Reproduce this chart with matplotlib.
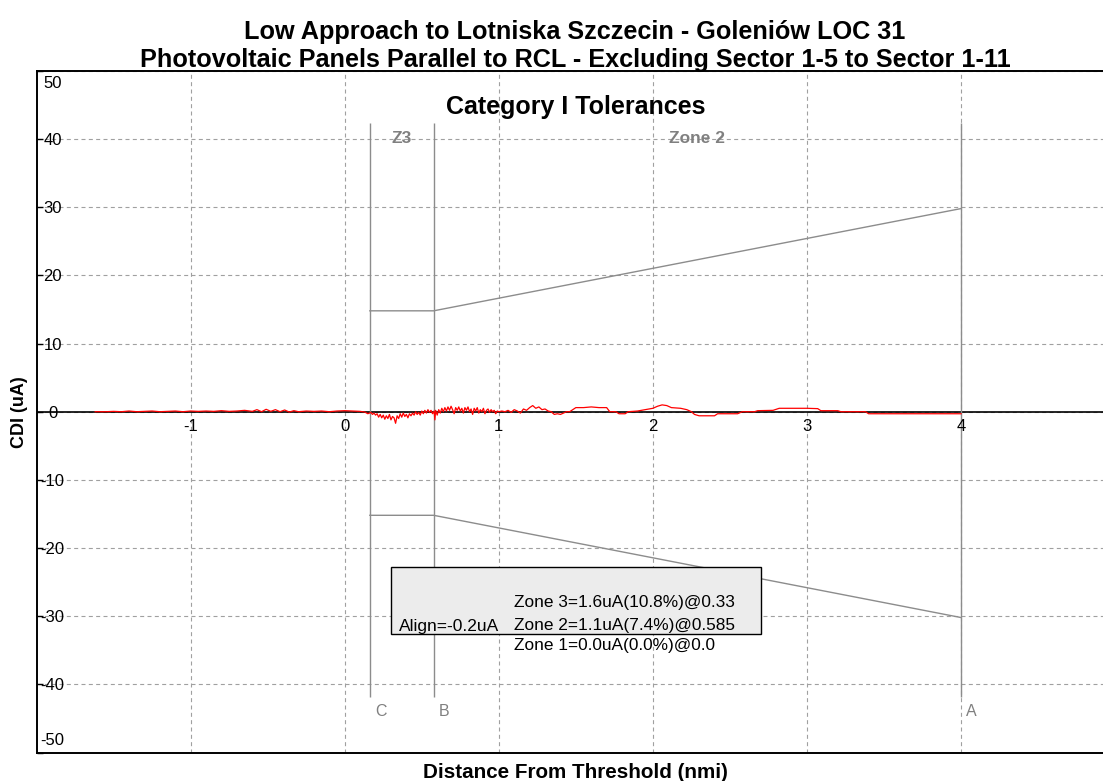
import matplotlib
matplotlib.use("Agg")
import matplotlib.pyplot as plt
from matplotlib.patches import Rectangle

plt.rcParams['font.family'] = ['Liberation Sans', 'DejaVu Sans']

# ---- text ----
title_lines = ["Low Approach to Lotniska Szczecin - Goleniów LOC 31",
               "Photovoltaic Panels Parallel to RCL - Excluding Sector 1-5 to Sector 1-11"]
subtitle = "Category I Tolerances"
x_label = "Distance From Threshold (nmi)"
y_label = "CDI (uA)"

# ---- axes ----
x_range = (-2, 5)
y_range = (-50, 50)
x_ticks = [-1, 0, 1, 2, 3, 4]
y_ticks = [-50, -40, -30, -20, -10, 0, 10, 20, 30, 40, 50]

# ---- tolerance geometry (ILS points and Cat I half-widths) ----
point_names = ["C", "B", "A"]
point_nmi = [0.163, 0.577, 4.0]
tol_half_ua = [15, 15, 30]
align_ua = -0.2
zone_names = ["Z3", "Zone 2"]

# ---- summary box ----
summary_align = "Align=-0.2uA"
summary_zones = ["Zone 3=1.6uA(10.8%)@0.33",
                 "Zone 2=1.1uA(7.4%)@0.585",
                 "Zone 1=0.0uA(0.0%)@0.0"]

# ---- recorded CDI trace ----
trace_nmi = [-1.62, -1.55, -1.50, -1.45, -1.40, -1.35, -1.30, -1.25, -1.20, -1.15,
             -1.10, -1.05, -1.00, -0.95, -0.90, -0.85, -0.80, -0.75, -0.70, -0.65,
             -0.60, -0.57, -0.54, -0.51, -0.48, -0.45, -0.42, -0.39, -0.36, -0.33,
             -0.30, -0.25, -0.20, -0.15, -0.10, -0.05, 0.00, 0.05, 0.10, 0.13, 0.15,
             0.17, 0.18, 0.19, 0.20, 0.21, 0.22, 0.23, 0.24, 0.25, 0.26,
             0.27, 0.28, 0.29, 0.30, 0.31, 0.32, 0.33, 0.34, 0.35, 0.36,
             0.37, 0.38, 0.39, 0.40, 0.41, 0.42, 0.43, 0.44, 0.45, 0.46,
             0.47, 0.48, 0.49, 0.50, 0.51, 0.52, 0.53, 0.54, 0.55, 0.56,
             0.57, 0.58, 0.585, 0.59, 0.60, 0.61, 0.62, 0.63, 0.64, 0.65,
             0.66, 0.67, 0.68, 0.69, 0.70, 0.71, 0.72, 0.73, 0.74, 0.75,
             0.76, 0.77, 0.78, 0.79, 0.80, 0.81, 0.82, 0.83, 0.84, 0.85,
             0.86, 0.87, 0.88, 0.89, 0.90, 0.91, 0.92, 0.93, 0.94, 0.95,
             0.96, 0.97, 0.98, 0.99, 1.00,
             1.02, 1.04, 1.06, 1.08, 1.10, 1.12, 1.14, 1.16, 1.18, 1.20,
             1.22, 1.24, 1.26, 1.28, 1.30, 1.32, 1.34, 1.36, 1.38, 1.40,
             1.42, 1.44, 1.46, 1.48,
             1.50, 1.55, 1.60, 1.65, 1.70, 1.72, 1.76, 1.78, 1.82, 1.84,
             1.90, 1.95, 2.00, 2.03, 2.06, 2.09, 2.12, 2.18, 2.22, 2.25,
             2.27, 2.30, 2.40, 2.42, 2.55, 2.58, 2.66, 2.68, 2.78, 2.82,
             3.00, 3.07, 3.09, 3.20, 3.22, 3.38, 3.40, 4.00]
trace_cdi = [0.0, 0.0, 0.05, 0.0, 0.1, 0.0, 0.05, 0.1, 0.0, 0.05,
             0.1, 0.0, 0.1, 0.05, 0.1, 0.05, 0.15, 0.05, 0.1, 0.2,
             0.05, 0.3, 0.0, 0.35, 0.05, 0.3, 0.0, 0.25, -0.05, 0.15,
             0.0, 0.1, 0.05, 0.1, 0.0, 0.1, 0.15, 0.1, 0.05, -0.05, -0.3,
             -0.1, -0.4, -0.2, -0.5, -0.3, -0.8, -0.4, -0.9, -0.5, -1.1,
             -0.6, -1.0, -0.4, -1.2, -0.7, -0.9, -1.7, -0.6, -1.0, -0.3,
             -0.8, -0.2, -0.7, -0.4, -0.9, -0.3, -0.6, -0.2, -0.5, 0.0,
             -0.4, -0.1, -0.5, 0.1, -0.3, 0.2, -0.2, 0.3, -0.1, 0.2,
             -0.3, 0.1, -1.2, 0.2, -0.5, 0.3, -0.2, 0.5, 0.0, 0.6,
             0.1, 0.7, 0.2, 0.8, 0.3, -0.3, 0.6, 0.2, 0.7, 0.1,
             0.5, -0.2, 0.6, 0.2, 0.7, 0.0, 0.4, -0.4, 0.5, 0.1,
             0.6, -0.2, 0.3, 0.0, 0.5, -0.3, 0.2, 0.4, -0.1, 0.3,
             0.0, 0.2, -0.3, 0.1, 0.0,
             0.1, 0.0, 0.2, -0.1, 0.3, 0.1, -0.2, 0.4, 0.2, 0.6,
             0.9, 0.5, 0.7, 0.3, 0.4, 0.1, 0.0, -0.4, -0.3, -0.4,
             -0.2, 0.0, 0.0, 0.3,
             0.6, 0.6, 0.7, 0.6, 0.6, 0.0, 0.0, -0.3, -0.3, 0.0,
             0.1, 0.3, 0.5, 0.8, 1.0, 0.9, 0.6, 0.5, 0.3, 0.0,
             -0.4, -0.6, -0.6, -0.3, -0.3, 0.0, 0.0, 0.15, 0.2, 0.5,
             0.5, 0.45, 0.15, 0.15, 0.0, 0.0, -0.3, -0.3]

GRID = '#a0a0a0'
TOL = '#8c8c8c'
LABEL_GREY = '#808080'

fig = plt.figure(figsize=(11.03, 7.81), dpi=100)
ax = fig.add_axes([0.03318, 0.03649, 0.97779, 0.87273])
ax.set_xlim(*x_range)
ax.set_ylim(*y_range)

for s in ax.spines.values():
    s.set_linewidth(1.4)
    s.set_color('black')

ax.set_xticks(x_ticks)
ax.set_yticks(y_ticks)
ax.tick_params(axis='x', length=0, labelbottom=False)
ax.tick_params(axis='y', direction='in', length=4, width=1, labelleft=False)
ax.grid(True, color=GRID, linewidth=0.8, linestyle=(0, (3.6, 3.0)), zorder=0)
ax.set_axisbelow(True)

# zero reference line
ax.axhline(0, color='black', linewidth=1.2, zorder=2)

# tolerance envelope
upper = [align_ua + h for h in tol_half_ua]
lower = [align_ua - h for h in tol_half_ua]
ax.plot(point_nmi, upper, color=TOL, linewidth=1.0, zorder=2)
ax.plot(point_nmi, lower, color=TOL, linewidth=1.0, zorder=2)
ax.vlines(point_nmi, -41.9, 42.3, color=TOL, linewidth=1.0, zorder=2)

for name, xp in zip(point_names, point_nmi):
    ax.text(xp + 0.032, -43.8, name, color=LABEL_GREY, fontsize=11.5,
            ha='left', va='center_baseline', zorder=4)

zone_centres = [(point_nmi[0] + point_nmi[1]) / 2, (point_nmi[1] + point_nmi[2]) / 2]
for name, xc in zip(zone_names, zone_centres):
    ax.text(xc, 40.3, name, color=LABEL_GREY, fontsize=12.5, fontweight='bold',
            ha='center', va='center_baseline', zorder=4)

# CDI trace
ax.plot(trace_nmi, trace_cdi, color='red', linewidth=0.9, zorder=3)

# tick labels drawn inside the plot area
for v in y_ticks:
    if v == 50:
        yv = 48.3
    elif v == -50:
        yv = -48.0
    else:
        yv = v
    ax.text(-1.896, yv, str(v), fontsize=12, ha='center', va='center_baseline')
for v in x_ticks:
    ax.text(v, -1.95, str(v), fontsize=12, ha='center', va='center_baseline', zorder=4)

ax.text(0.5 * (x_range[0] + x_range[1]), 45.0, subtitle, fontsize=18,
        fontweight='bold', ha='center', va='center_baseline', zorder=4)

# summary box
ax.add_patch(Rectangle((0.30, -32.6), 2.403, 9.8, facecolor='#ececec',
                       edgecolor='black', linewidth=1.0, zorder=5))
ax.text(0.352, -31.3, summary_align, fontsize=12.5, ha='left', va='center_baseline', zorder=6)
for txt, yv in zip(summary_zones, [-27.8, -31.2, -34.1]):
    ax.text(1.10, yv, txt, fontsize=12.4, ha='left', va='center_baseline', zorder=6)

# titles and axis labels
fig.text(575 / 1103, 1 - 29 / 781, title_lines[0], fontsize=18.2, fontweight='bold',
         ha='center', va='center_baseline')
fig.text(575 / 1103, 1 - 57 / 781, title_lines[1], fontsize=18.2, fontweight='bold',
         ha='center', va='center_baseline')
fig.text(575 / 1103, 1 - 771 / 781, x_label, fontsize=14.9, fontweight='bold',
         ha='center', va='center_baseline')
fig.text(20 / 1103, 1 - 412 / 781, y_label, fontsize=13, fontweight='bold',
         rotation=90, ha='center', va='center')

fig.savefig('out.png', dpi=100)
